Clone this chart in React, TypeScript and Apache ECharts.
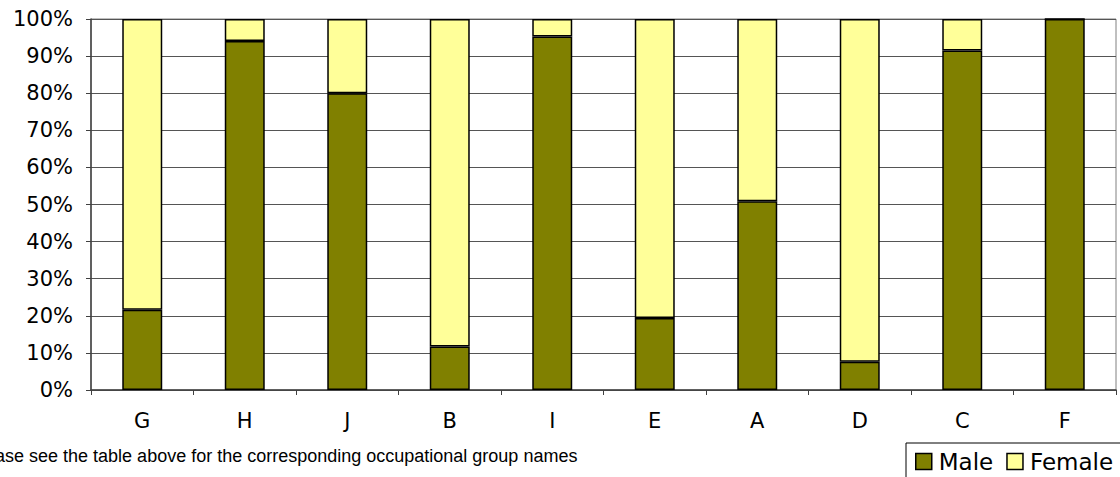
import React, { useEffect, useRef } from "react";
import * as echarts from "echarts";

const categories = ["G", "H", "J", "B", "I", "E", "A", "D", "C", "F"];
const maleValues = [21.6, 94.1, 80.0, 11.7, 95.3, 19.4, 50.9, 7.6, 91.5, 100];
const femaleValues = maleValues.map((v) => +(100 - v).toFixed(1));
const footnote = "Please see the table above for the corresponding occupational group names";

const FONT = "'DejaVu Sans', Verdana, sans-serif";

export default function App() {
  const ref = useRef<HTMLDivElement>(null);
  useEffect(() => {
    if (!ref.current) return;
    const chart = echarts.init(ref.current, null, { renderer: "svg" });
    chart.setOption({
      animation: false,
      textStyle: { fontFamily: FONT, color: "#000" },
      grid: {
        left: 91,
        right: 4,
        top: 19,
        bottom: 87,
        show: true,
        borderColor: "#808080",
        borderWidth: 1,
      },
      legend: {
        left: 906,
        top: 443,
        width: 240,
        itemWidth: 16,
        itemHeight: 16,
        itemGap: 13,
        padding: [7, 10, 10, 9],
        borderColor: "#000",
        borderWidth: 1,
        icon: "rect",
        textStyle: { fontSize: 23, fontFamily: FONT, color: "#000", padding: [0, 0, 0, 2] },
        data: [
          { name: "Male", itemStyle: { borderColor: "#000", borderWidth: 1.5 } },
          { name: "Female", itemStyle: { borderColor: "#000", borderWidth: 1.5 } },
        ],
      },
      xAxis: {
        type: "category",
        data: categories,
        axisLine: { lineStyle: { color: "#404040", width: 1.5 } },
        axisTick: { show: true, length: 5, lineStyle: { color: "#404040" } },
        axisLabel: { fontSize: 21, color: "#000", margin: 20, fontFamily: FONT },
      },
      yAxis: {
        type: "value",
        min: 0,
        max: 100,
        interval: 10,
        axisLine: { show: true, lineStyle: { color: "#404040", width: 1.5 } },
        axisTick: { show: true, length: 5, lineStyle: { color: "#404040" } },
        axisLabel: { fontSize: 21, color: "#000", margin: 18, formatter: "{value}%", fontFamily: FONT },
        splitLine: { lineStyle: { color: "#555", width: 1 } },
      },
      series: [
        {
          name: "Male",
          type: "bar",
          stack: "total",
          barWidth: "39%",
          data: maleValues,
          itemStyle: { color: "#808000", borderColor: "#000", borderWidth: 1.5 },
        },
        {
          name: "Female",
          type: "bar",
          stack: "total",
          barWidth: "39%",
          data: femaleValues,
          itemStyle: { color: "#FFFF99", borderColor: "#000", borderWidth: 1.5 },
        },
      ],
      graphic: [
        {
          type: "text",
          left: -31,
          top: 447,
          style: { text: footnote, fontSize: 18, fontFamily: "'Liberation Sans', Arial, sans-serif", fill: "#000" },
        },
      ],
    });
    return () => chart.dispose();
  }, []);
  return (
    <div
      ref={ref}
      style={{ position: "fixed", left: 0, top: 0, width: 1120, height: 477, background: "#fff" }}
    />
  );
}
